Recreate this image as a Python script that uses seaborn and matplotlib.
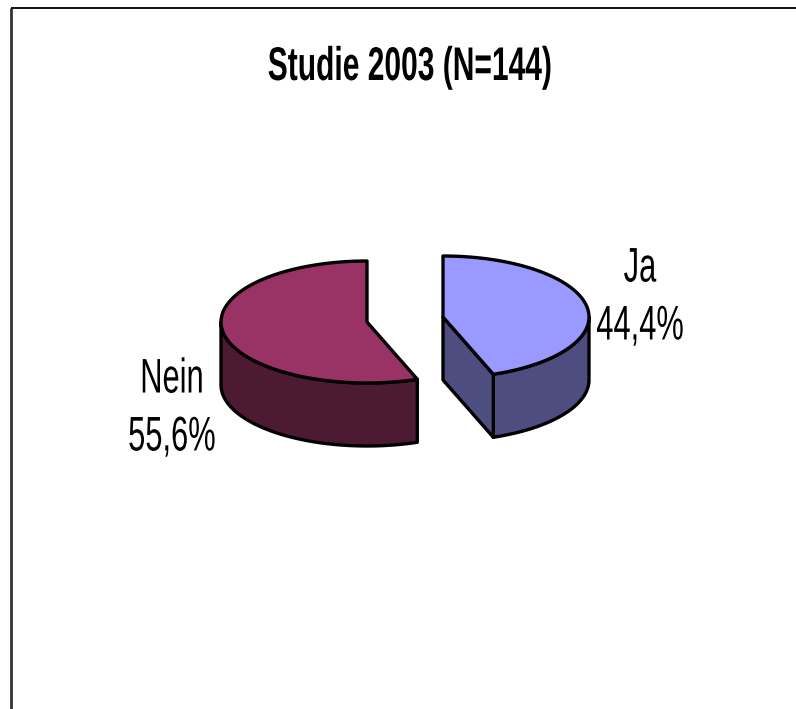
import numpy as np
import pandas as pd
import seaborn as sns
import matplotlib.pyplot as plt
from matplotlib.patches import Polygon
from matplotlib.patheffects import AbstractPathEffect
from matplotlib.transforms import Affine2D

labels = ["Ja", "Nein"]
shares = [44.4, 55.6]
top_colors = ["#9999ff", "#993366"]
side_colors = ["#4d4d80", "#4d1a33"]
title = "Studie 2003 (N=144)"

sns.set_theme(style="white")
plt.rcParams["font.family"] = ["Liberation Sans"]

df = pd.DataFrame({"label": labels, "share": shares})
df["start"] = np.r_[0, df["share"].cumsum().values[:-1]] * 3.6
df["end"] = df["share"].cumsum() * 3.6

# pie centre of each slice, pulled apart (pixels of the picture)
centres = {"Ja": (443, 317), "Nein": (367, 322)}
label_pos = {"Ja": (640, 298), "Nein": (172, 409)}
rx, ry, depth = 146, 61, 63


class Narrow(AbstractPathEffect):
    # squeezes text sideways, no narrow font is installed
    def __init__(self, x0, factor):
        super().__init__()
        self.x0, self.factor = x0, factor

    def draw_path(self, renderer, gc, tpath, affine, rgbFace=None):
        squeeze = Affine2D().translate(-self.x0, 0).scale(self.factor, 1).translate(self.x0, 0)
        renderer.draw_path(gc, tpath, affine + squeeze, rgbFace)


def rim(cx, cy, a0, a1):
    t = np.radians(np.linspace(a0, a1, 120))
    return np.c_[cx + rx * np.sin(t), cy - ry * np.cos(t)]


fig = plt.figure(figsize=(7.96, 7.09), dpi=100)
ax = fig.add_axes([0, 0, 1, 1])
ax.set_xlim(0, 796)
ax.set_ylim(709, 0)
ax.axis("off")

ax.plot([11, 11], [709, 8], color="#333333", lw=2, solid_capstyle="butt")
ax.plot([11, 796], [8, 8], color="black", lw=1.3, solid_capstyle="butt")

for i, row in df.iterrows():
    cx, cy = centres[row["label"]]
    edge = rim(cx, cy, row["start"], row["end"])
    side_kw = dict(facecolor=side_colors[i], edgecolor="black", lw=2.4, joinstyle="round")

    # outer wall, only the part of the rim facing the viewer
    a0, a1 = max(row["start"], 90), min(row["end"], 270)
    front = rim(cx, cy, a0, a1)
    ax.add_patch(Polygon(np.r_[front, (front + [0, depth])[::-1]], **side_kw))

    # cut face of the slice that looks at the viewer
    if row["label"] == "Ja":
        tip = edge[-1]
        ax.add_patch(Polygon([(cx, cy), tip, tip + [0, depth], (cx, cy + depth)], **side_kw))

    ax.add_patch(Polygon(np.r_[[(cx, cy)], edge], facecolor=top_colors[i],
                         edgecolor="black", lw=2.4, joinstyle="round"))

    x, y = label_pos[row["label"]]
    txt = f"{row['label']}\n{row['share']:.1f}%".replace(".", ",")
    ax.text(x, y, txt, ha="center", va="center", fontsize=35, color="black", linespacing=1.37,
            path_effects=[Narrow(x, 0.635)])

ax.text(410, 68, title, ha="center", va="center", fontsize=34, fontweight="bold", color="black",
        path_effects=[Narrow(410, 0.635)])

fig.savefig("out.png", dpi=100)
